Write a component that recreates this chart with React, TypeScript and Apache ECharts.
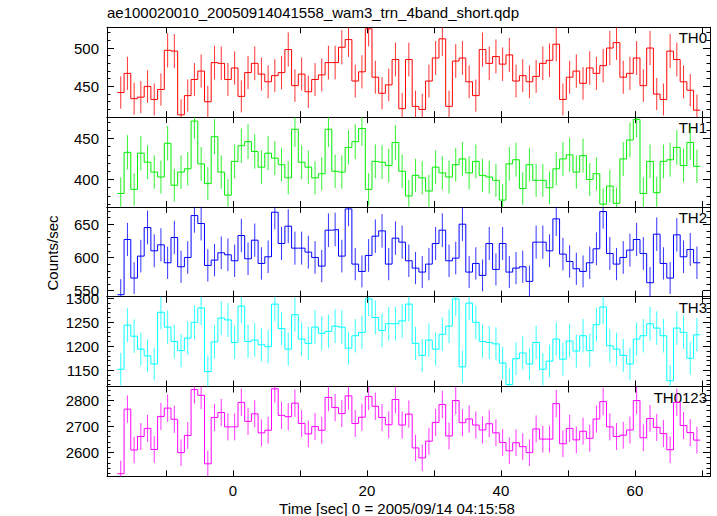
import React, { useEffect, useRef } from "react";
import * as echarts from "echarts";

const TITLE = "ae100020010_20050914041558_wam3_trn_4band_short.qdp";
const X_NAME = "Time [sec] 0 = 2005/09/14 04:15:58";
const Y_NAME = "Counts/sec";

const FIRST_BIN_CENTER = -16.75;
const BIN_WIDTH = 1;
const X_MIN = -18.8;
const X_MAX = 71.2;
const X_TICKS = [-10, 0, 10, 20, 30, 40, 50, 60, 70];
const X_LABELS = [0, 20, 40, 60];

const BANDS = ["TH0", "TH1", "TH2", "TH3", "TH0123"];
const COLORS = ["#ff0000", "#00ee00", "#0000ff", "#00ffff", "#ff00ff"];

const th0 = [442, 467, 434, 436, 450, 433, 446, 497, 496, 413, 438, 459, 470, 430, 481, 480, 459, 474, 437, 468, 480, 466, 456, 464, 468, 498, 451, 466, 443, 459, 465, 481, 481, 501, 511, 457, 469, 525, 462, 441, 452, 485, 421,
  485, 424, 420, 457, 487, 512, 424, 483, 487, 456, 438, 498, 480, 489, 479, 491, 457, 464, 456, 463, 480, 484, 505, 433, 462, 470, 454, 474, 467, 477, 500, 507, 462, 467, 487, 451, 500, 440, 433, 496, 485, 456, 445, 419];
const th1 = [383, 433, 388, 432, 421, 409, 403, 444, 393, 409, 413, 471, 419, 395, 452, 409, 381, 422, 441, 446, 434, 415, 432, 426, 418, 402, 461, 421, 415, 402, 407, 461, 410, 409, 439, 446, 462, 388, 422, 421, 417, 445, 410,
  380, 405, 402, 386, 415, 408, 403, 418, 425, 408, 422, 405, 403, 399, 375, 419, 424, 389, 418, 399, 399, 390, 413, 425, 430, 409, 429, 400, 407, 370, 392, 371, 425, 448, 473, 383, 422, 384, 422, 424, 439, 417, 445, 416];
const th2 = [544, 627, 569, 602, 645, 610, 619, 592, 630, 586, 600, 663, 651, 588, 596, 607, 604, 595, 633, 598, 626, 591, 601, 668, 621, 647, 614, 614, 608, 600, 587, 641, 642, 602, 673, 590, 579, 603, 632, 640, 590, 629, 623,
  595, 584, 578, 590, 621, 641, 595, 599, 650, 578, 591, 573, 621, 582, 621, 578, 584, 586, 564, 623, 623, 610, 658, 605, 594, 583, 579, 592, 613, 669, 606, 590, 600, 611, 627, 606, 562, 635, 591, 569, 634, 601, 612, 592];
const th3 = [1152, 1244, 1221, 1194, 1180, 1163, 1271, 1240, 1210, 1191, 1217, 1250, 1280, 1147, 1209, 1259, 1255, 1208, 1284, 1210, 1213, 1203, 1199, 1288, 1237, 1194, 1266, 1215, 1206, 1240, 1227, 1231, 1242, 1240, 1196, 1222, 1229, 1299, 1260, 1233, 1247, 1247, 1253,
  1288, 1206, 1181, 1213, 1194, 1225, 1242, 1299, 1157, 1290, 1250, 1210, 1208, 1205, 1165, 1120, 1174, 1186, 1163, 1208, 1152, 1169, 1215, 1173, 1211, 1190, 1222, 1191, 1245, 1282, 1201, 1194, 1181, 1163, 1215, 1222, 1247, 1238, 1222, 1128, 1238, 1229, 1175, 1224];
const th0123 = [2518, 2766, 2609, 2661, 2692, 2611, 2738, 2770, 2727, 2599, 2665, 2841, 2819, 2556, 2734, 2753, 2698, 2698, 2792, 2719, 2748, 2675, 2685, 2844, 2742, 2737, 2789, 2711, 2671, 2699, 2685, 2811, 2772, 2749, 2817, 2711, 2735, 2815, 2777, 2734, 2706, 2803, 2705,
  2747, 2617, 2579, 2643, 2715, 2784, 2663, 2799, 2714, 2728, 2705, 2686, 2710, 2675, 2638, 2606, 2637, 2622, 2599, 2690, 2651, 2651, 2787, 2633, 2692, 2648, 2681, 2654, 2728, 2795, 2698, 2661, 2666, 2686, 2799, 2656, 2730, 2696, 2672, 2610, 2792, 2703, 2676, 2647];

const SERIES = [th0, th1, th2, th3, th0123];
const Y_RANGES = [[410, 527], [366.7, 475.8], [541, 676], [1116, 1303.5], [2508, 2853]];
const Y_MAJOR = [[450, 500], [400, 450], [550, 600, 650], [1150, 1200, 1250, 1300], [2600, 2700, 2800]];
const Y_MINOR_STEP = [10, 10, 10, 10, 20];

const FONT = "Liberation Sans";
const LEFT = 107;
const RIGHT = 710;
const TOP0 = 27.3;
const PANEL_H = 89.8;

function minorTicks(range: number[], step: number) {
  const out: number[] = [];
  const start = Math.ceil(range[0] / step) * step;
  for (let v = start; v <= range[1]; v += step) out.push(v);
  return out;
}

const plain = (v: number) => String(v);

export default function App() {
  const ref = useRef<HTMLDivElement>(null);
  useEffect(() => {
    if (!ref.current) return;
    const chart = echarts.init(ref.current, null, { renderer: "svg" });
    const grids: any[] = [];
    const xAxes: any[] = [];
    const yAxes: any[] = [];
    const series: any[] = [];
    const graphics: any[] = [];
    const n = SERIES.length;
    for (let i = 0; i < n; i++) {
      const top = TOP0 + i * PANEL_H;
      grids.push({ left: LEFT, width: RIGHT - LEFT, top, height: PANEL_H, containLabel: false });
      const xBase = {
        type: "value",
        gridIndex: i,
        min: X_MIN,
        max: X_MAX,
        splitLine: { show: false },
        axisLine: { show: true, onZero: false, lineStyle: { color: "#000", width: 1 } },
        axisTick: { show: true, inside: true, length: 6, customValues: X_TICKS, lineStyle: { color: "#000" } },
      };
      xAxes.push({
        ...xBase,
        position: "bottom",
        axisLabel: {
          show: i === n - 1,
          customValues: X_LABELS,
          formatter: plain,
          fontSize: 15,
          fontFamily: FONT,
          color: "#000",
          margin: 7,
        },
      });
      xAxes.push({ ...xBase, position: "top", axisLabel: { show: false } });
      const yr = Y_RANGES[i];
      const yBase = {
        type: "value",
        gridIndex: i,
        min: yr[0],
        max: yr[1],
        splitLine: { show: false },
        axisLine: { show: true, onZero: false, lineStyle: { color: "#000", width: 1 } },
      };
      const minors = minorTicks(yr, Y_MINOR_STEP[i]);
      yAxes.push({
        ...yBase,
        position: "left",
        axisTick: { show: true, inside: true, length: 7, customValues: Y_MAJOR[i], lineStyle: { color: "#000" } },
        axisLabel: {
          show: true,
          customValues: Y_MAJOR[i],
          formatter: plain,
          fontSize: 15,
          fontFamily: FONT,
          color: "#000",
          margin: 8,
        },
      });
      yAxes.push({
        ...yBase,
        position: "left",
        axisTick: { show: true, inside: true, length: 3.5, customValues: minors, lineStyle: { color: "#000" } },
        axisLabel: { show: false },
      });
      yAxes.push({
        ...yBase,
        position: "right",
        axisTick: { show: true, inside: true, length: 7, customValues: Y_MAJOR[i], lineStyle: { color: "#000" } },
        axisLabel: { show: false },
      });
      yAxes.push({
        ...yBase,
        position: "right",
        axisTick: { show: true, inside: true, length: 3.5, customValues: minors, lineStyle: { color: "#000" } },
        axisLabel: { show: false },
      });

      const vals = SERIES[i];
      const color = COLORS[i];
      const steps: number[][] = [];
      vals.forEach((v, k) => {
        const c = FIRST_BIN_CENTER + k * BIN_WIDTH;
        steps.push([c - BIN_WIDTH / 2, v]);
        steps.push([c + BIN_WIDTH / 2, v]);
      });
      series.push({
        type: "line",
        xAxisIndex: 2 * i,
        yAxisIndex: 4 * i,
        data: steps,
        showSymbol: false,
        symbol: "none",
        silent: true,
        clip: true,
        lineStyle: { color, width: 1 },
      });
      const ymin = yr[0];
      const ymax = yr[1];
      series.push({
        type: "custom",
        xAxisIndex: 2 * i,
        yAxisIndex: 4 * i,
        silent: true,
        data: vals.map((v, k) => [FIRST_BIN_CENTER + k * BIN_WIDTH, v, Math.sqrt(v)]),
        encode: { x: 0, y: 1 },
        renderItem: (params: any, api: any) => {
          const x = api.value(0);
          const v = api.value(1);
          const e = api.value(2);
          const lo = Math.max(v - e, ymin);
          const hi = Math.min(v + e, ymax);
          const p1 = api.coord([x, lo]);
          const p2 = api.coord([x, hi]);
          return {
            type: "line",
            shape: { x1: p1[0], y1: p1[1], x2: p2[0], y2: p2[1] },
            style: { stroke: color, lineWidth: 1, opacity: 0.8 },
          };
        },
      });
      graphics.push({
        type: "text",
        right: 717 - 707,
        top: top + 3,
        style: { text: BANDS[i], fontSize: 15, fontFamily: FONT, fill: "#000" },
      });
    }
    graphics.push({
      type: "text",
      left: LEFT,
      top: 5,
      style: { text: TITLE, fontSize: 15, fontFamily: FONT, fill: "#000" },
    });
    graphics.push({
      type: "text",
      x: 397,
      y: 508,
      style: { text: X_NAME, fontSize: 15, fontFamily: FONT, fill: "#000", align: "center", verticalAlign: "middle" },
    });
    graphics.push({
      type: "text",
      x: 52,
      y: 253,
      rotation: Math.PI / 2,
      style: { text: Y_NAME, fontSize: 15, fontFamily: FONT, fill: "#000", align: "center", verticalAlign: "middle" },
    });

    chart.setOption({
      animation: false,
      backgroundColor: "#fff",
      grid: grids,
      xAxis: xAxes,
      yAxis: yAxes,
      series,
      graphic: graphics,
    });
    return () => chart.dispose();
  }, []);
  return <div ref={ref} style={{ position: "absolute", left: 0, top: 0, width: 717, height: 516 }} />;
}
